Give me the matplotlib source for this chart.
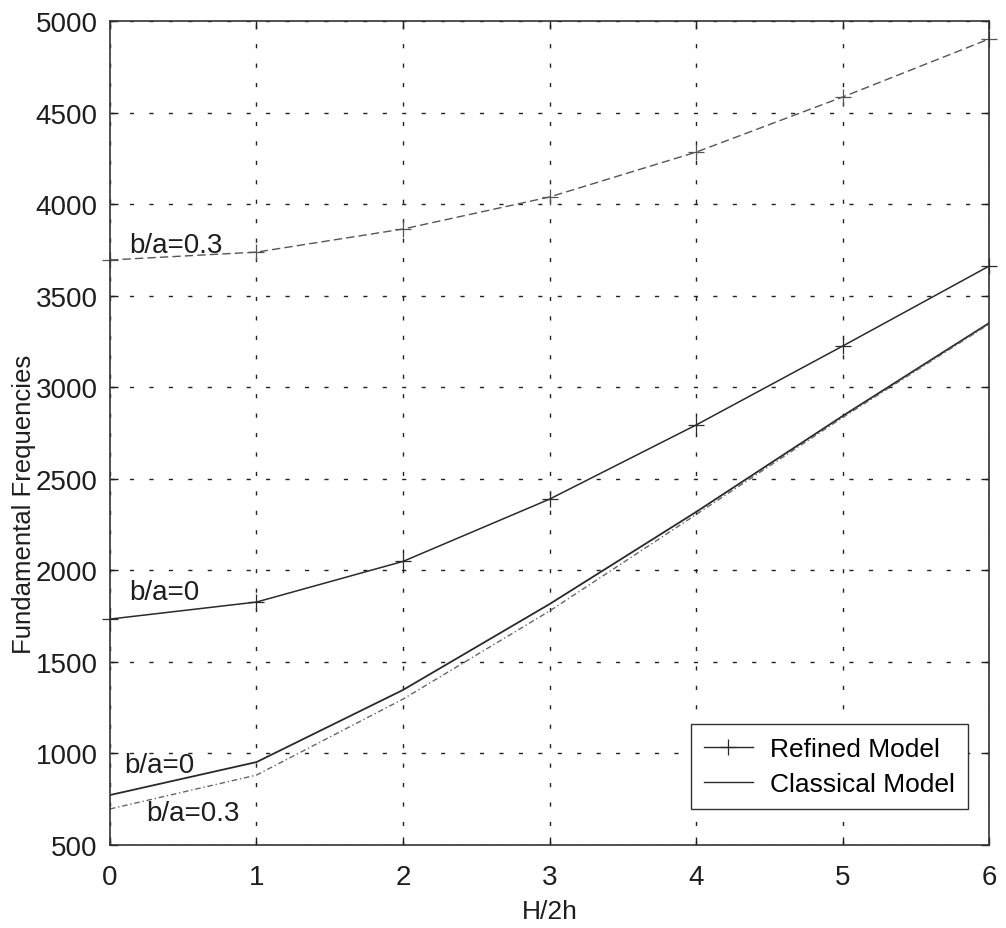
import matplotlib
matplotlib.use("Agg")
import matplotlib.pyplot as plt
from matplotlib.lines import Line2D

plt.rcParams['font.family'] = ['Liberation Sans', 'DejaVu Sans']

# Ratio of total to face thickness
h_ratio = [0, 1, 2, 3, 4, 5, 6]

# Fundamental frequencies, refined model
refined_b0 = [1734, 1827, 2049, 2389, 2794, 3225, 3662]
refined_b03 = [3695, 3738, 3864, 4039, 4284, 4585, 4902]

# Fundamental frequencies, classical model
classical_b0 = [773, 953, 1347, 1816, 2319, 2843, 3351]
classical_b03 = [697, 882, 1297, 1778, 2305, 2835, 3345]

x_ticks = [0, 1, 2, 3, 4, 5, 6]
y_ticks = [500, 1000, 1500, 2000, 2500, 3000, 3500, 4000, 4500, 5000]

fig = plt.figure(figsize=(10.06, 9.29), dpi=100)
ax = fig.add_axes([0.1093, 0.0893, 0.874, 0.887])

ink = '#2a2a2a'
txt = '#1e1e1e'
ax.plot(h_ratio, refined_b03, color='#555555', lw=1.0, ls=(0, (6, 3)),
        marker='+', ms=11, mew=0.9, clip_on=False)
ax.plot(h_ratio, refined_b0, color=ink, lw=1.1, ls='-',
        marker='+', ms=11, mew=0.9, clip_on=False)
ax.plot(h_ratio, classical_b0, color=ink, lw=1.3, ls='-')
ax.plot(h_ratio, classical_b03, color='#666666', lw=1.0, ls=(0, (4, 2, 1, 2)))

ax.set_xlim(0, 6)
ax.set_ylim(500, 5000)
ax.set_xticks(x_ticks)
ax.set_yticks(y_ticks)
ax.tick_params(direction='in', length=6, width=1, top=True, right=True,
               labelsize=20, colors=txt, pad=9)
ax.tick_params(axis='x', pad=14)
for s in ax.spines.values():
    s.set_linewidth(1.2)
    s.set_color('#333333')

ax.grid(True, color='#222222', ls=(0, (3, 11)), lw=1.0)

ax.set_xlabel('H/2h', fontsize=19, color=txt, labelpad=6)
ax.set_ylabel('Fundamental Frequencies', fontsize=18.5, color=txt)
ax.yaxis.set_label_coords(-0.084, 0.415)

ax.text(0.13, 3777, 'b/a=0.3', fontsize=20, va='center', ha='left', color=txt)
ax.text(0.13, 1881, 'b/a=0', fontsize=20, va='center', ha='left', color=txt)
ax.text(0.10, 937, 'b/a=0', fontsize=20, va='center', ha='left', color=txt)
ax.text(0.25, 675, 'b/a=0.3', fontsize=20, va='center', ha='left', color=txt)

handles = [
    Line2D([], [], color=ink, lw=1.0, marker='+', ms=11, mew=0.9),
    Line2D([], [], color=ink, lw=1.0),
]
leg = ax.legend(handles, ['Refined Model', 'Classical Model'], loc='lower right',
                bbox_to_anchor=(0.976, 0.0437), borderaxespad=0, fontsize=19,
                frameon=True, fancybox=False, edgecolor='#333333', framealpha=1,
                handlelength=1.85, handletextpad=0.65, borderpad=0.5,
                labelspacing=0.4)
leg.get_frame().set_linewidth(1.0)

fig.savefig('out.png', dpi=100)
